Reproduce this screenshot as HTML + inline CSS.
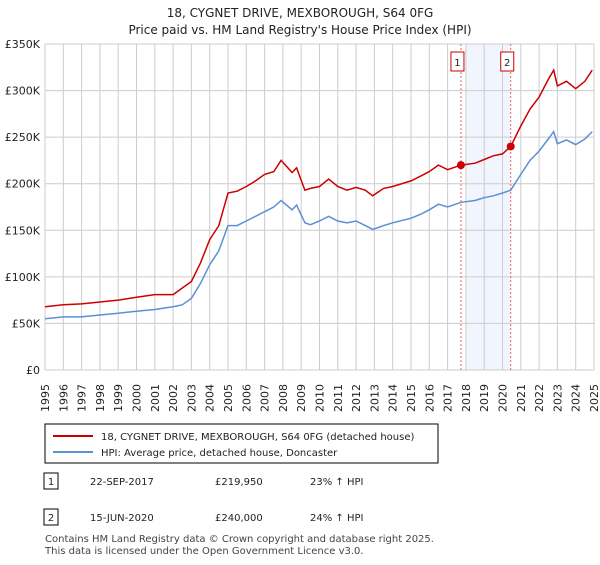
<!DOCTYPE html>
<html><head><meta charset="utf-8"><style>
body{margin:0;background:#fff;font-family:"Liberation Sans","DejaVu Sans",sans-serif;}
svg text{font-family:"DejaVu Sans","Liberation Sans",sans-serif;}
</style></head><body>
<svg id="c" width="600" height="560" viewBox="0 0 600 560" xmlns="http://www.w3.org/2000/svg">
<text x="300" y="17" text-anchor="middle" font-size="12" fill="#222">18, CYGNET DRIVE, MEXBOROUGH, S64 0FG</text>
<text x="300" y="34" text-anchor="middle" font-size="12" fill="#222">Price paid vs. HM Land Registry's House Price Index (HPI)</text>
<g id="grid"></g><g id="ser"></g>
<rect x="45" y="424" width="393" height="39" fill="#fff" stroke="#000" stroke-width="1"/>
<line x1="53" y1="436" x2="93" y2="436" stroke="#cc0000" stroke-width="2"/>
<text x="101" y="440" font-size="10" fill="#222">18, CYGNET DRIVE, MEXBOROUGH, S64 0FG (detached house)</text>
<line x1="53" y1="452" x2="93" y2="452" stroke="#5b8fd6" stroke-width="2"/>
<text x="101" y="456" font-size="10" fill="#222">HPI: Average price, detached house, Doncaster</text>
<g font-size="10" fill="#222">
<rect x="44" y="473" width="14" height="16" fill="#fff" stroke="#000"/><text x="51" y="485" text-anchor="middle">1</text>
<text x="90" y="485">22-SEP-2017</text><text x="215" y="485">£219,950</text><text x="310" y="485">23% ↑ HPI</text></g>
<g font-size="10" fill="#222">
<rect x="44" y="509" width="14" height="16" fill="#fff" stroke="#000"/><text x="51" y="521" text-anchor="middle">2</text>
<text x="90" y="521">15-JUN-2020</text><text x="215" y="521">£240,000</text><text x="310" y="521">24% ↑ HPI</text></g>
<text x="45" y="542" font-size="10" fill="#444">Contains HM Land Registry data © Crown copyright and database right 2025.</text>
<text x="45" y="554" font-size="10" fill="#444">This data is licensed under the Open Government Licence v3.0.</text>
</svg>
<script>
const yTicks=[0,50000,100000,150000,200000,250000,300000,350000];
const yLabels=["£0","£50K","£100K","£150K","£200K","£250K","£300K","£350K"];
const years=[1995,1996,1997,1998,1999,2000,2001,2002,2003,2004,2005,2006,2007,2008,2009,2010,2011,2012,2013,2014,2015,2016,2017,2018,2019,2020,2021,2022,2023,2024,2025];
const dates=[1995,1996,1997,1998,1999,2000,2001,2002,2002.5,2003,2003.5,2004,2004.5,2005,2005.5,2006,2006.5,2007,2007.5,2007.9,2008.5,2008.75,2009.2,2009.5,2010,2010.5,2011,2011.5,2012,2012.5,2012.9,2013.5,2014,2015,2015.5,2016,2016.5,2017,2017.73,2018.5,2019,2019.5,2020,2020.45,2021,2021.5,2022,2022.5,2022.8,2023,2023.5,2024,2024.5,2024.9];
const hpi=[55,57,57,59,61,63,65,68,70,77,93,113,128,155,155,160,165,170,175,182,172,177,158,156,160,165,160,158,160,155,151,155,158,163,167,172,178,175,180,182,185,187,190,193,210,225,235,248,256,243,247,242,248,256];
const price=[68,70,71,73,75,78,81,81,88,95,115,140,155,190,192,197,203,210,213,225,212,217,193,195,197,205,197,193,196,193,187,195,197,203,208,213,220,215,219.95,222,226,230,232,240,262,280,293,312,322,305,310,302,310,322];
const saleDates=[2017.73,2020.45];
const salePrices=[219950,240000];
const saleLabels=["1","2"];
const NS="http://www.w3.org/2000/svg";
const X0=45,X1=594,Y0=370,Y1=44;
const xs=d=>X0+(d-1995)/30*(X1-X0);
const ys=v=>Y0-v/350000*(Y0-Y1);
function mk(t,a,p){const e=document.createElementNS(NS,t);for(const k in a)e.setAttribute(k,a[k]);p.appendChild(e);return e;}
const g=document.getElementById('grid'),s=document.getElementById('ser');
const sh=mk('rect',{x:xs(2018),y:Y1,width:xs(saleDates[1])-xs(2018),height:Y0-Y1,fill:'#eef3fc',opacity:0.8},g);


yTicks.forEach((v,i)=>{
 const l=mk('line',{x1:X0,x2:X1,y1:ys(v),y2:ys(v),stroke:'#ccc'},g);
 
 
 const t=mk('text',{x:40,y:ys(v)+4,'text-anchor':'end','font-size':11,fill:'#222'},g);t.textContent=yLabels[i];
 
 
});
years.forEach(y=>{
 const l=mk('line',{x1:xs(y),x2:xs(y),y1:Y1,y2:Y0,stroke:'#ccc'},g);
 
 
 const t=mk('text',{x:xs(y),y:384,'text-anchor':'end','font-size':11,fill:'#222',transform:`rotate(-90 ${xs(y)} 384)`,dy:4},g);t.textContent=y;
 
 
});
const pts=a=>a.map((v,i)=>xs(dates[i]).toFixed(1)+','+ys(v*1000).toFixed(1)).join(' ');
const hl=mk('polyline',{points:pts(hpi),fill:'none',stroke:'#5b8fd6','stroke-width':1.5},s);


const pl=mk('polyline',{points:pts(price),fill:'none',stroke:'#cc0000','stroke-width':1.5},s);


saleDates.forEach((d,i)=>{
 const l=mk('line',{x1:xs(d),x2:xs(d),y1:Y1,y2:Y0,stroke:'#f06060','stroke-dasharray':'2,2'},s);
 
 
 const c=mk('circle',{cx:xs(d),cy:ys(salePrices[i]),r:4,fill:'#cc0000'},s);
 
 
 const r=mk('rect',{x:xs(d)-10,y:52,width:13,height:19,fill:'#fff',stroke:'#cc0000'},s);
 
 
 const t=mk('text',{x:xs(d)-3.5,y:66,'text-anchor':'middle','font-size':10,fill:'#222'},s);t.textContent=saleLabels[i];
 
 
});
</script>
</body></html>
